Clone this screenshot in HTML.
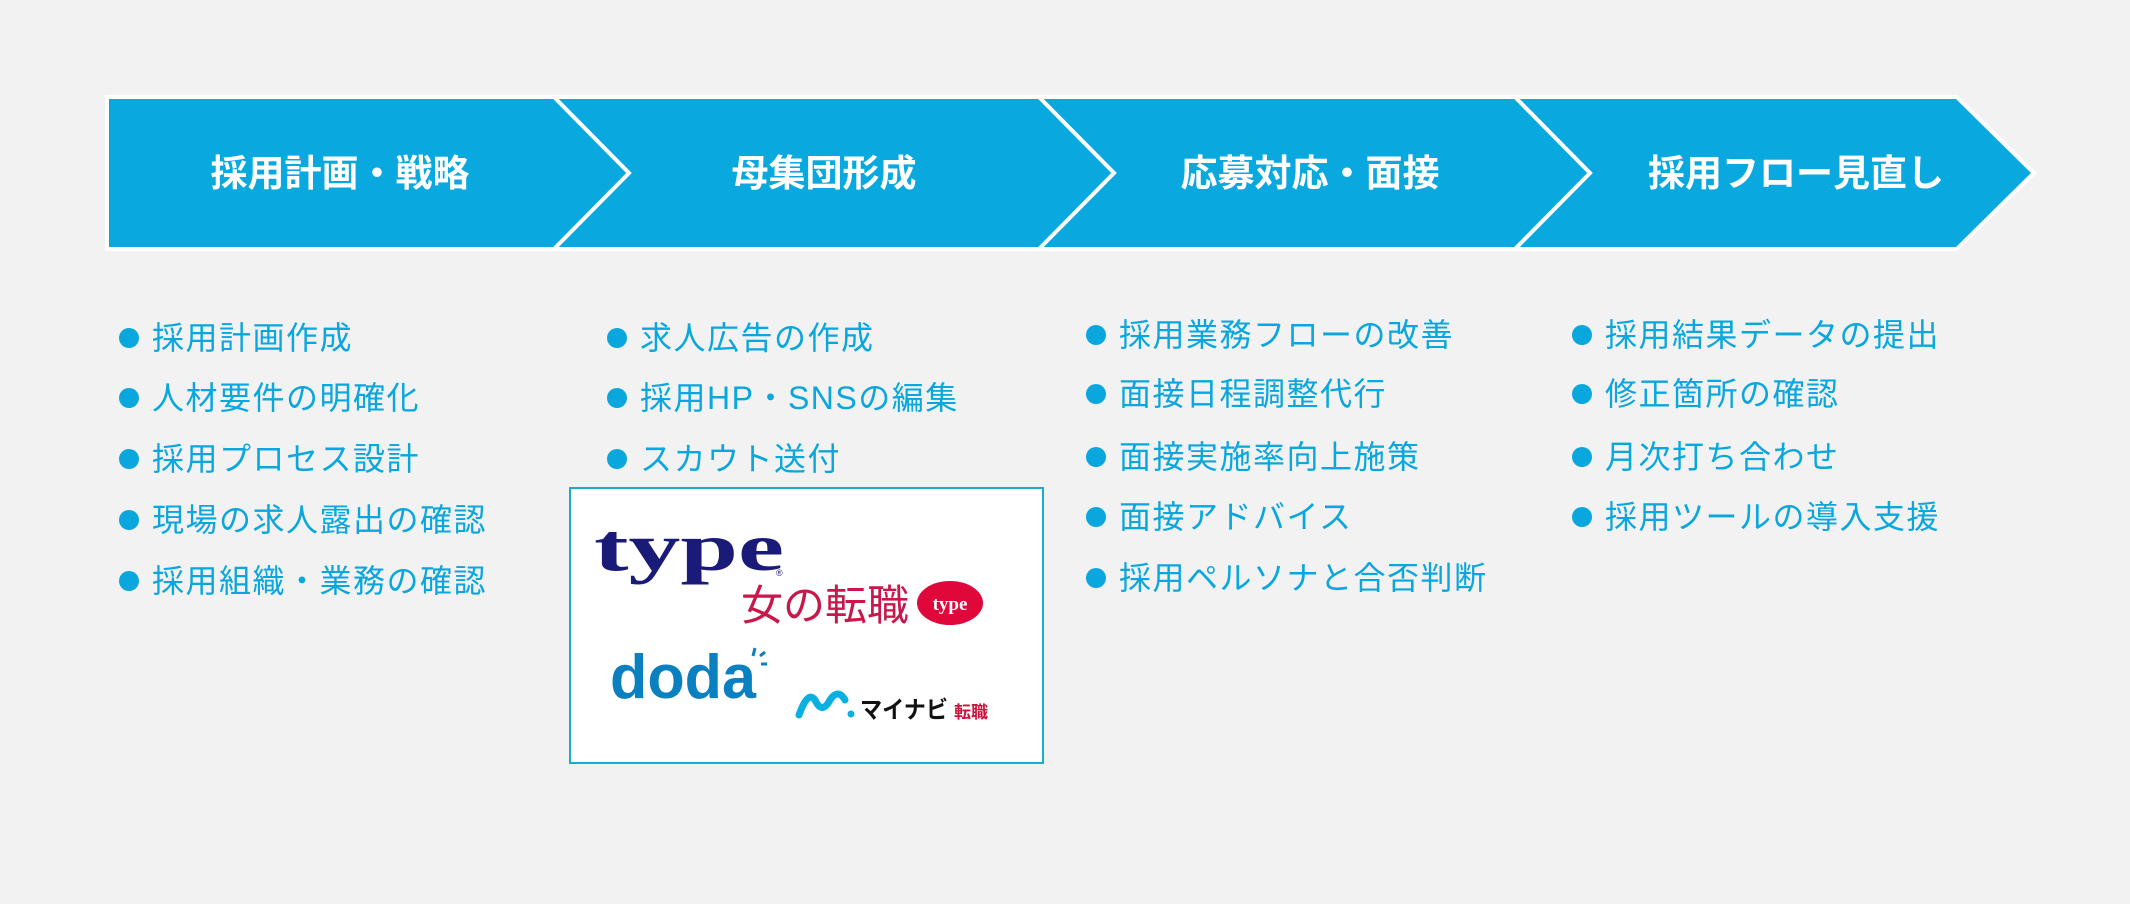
<!DOCTYPE html>
<html><head><meta charset="utf-8"><style>
html,body{margin:0;padding:0;}
body{width:2130px;height:904px;background:#f2f2f2;position:relative;overflow:hidden;font-family:"Liberation Sans","Noto Sans CJK JP",sans-serif;}
.it{position:absolute;height:40px;line-height:40px;font-size:32px;color:#0aa6de;letter-spacing:1.5px;white-space:nowrap;}
.it::before{content:"";position:absolute;left:-33px;top:10px;width:20px;height:20px;border-radius:50%;background:#0aa6de;}
</style></head><body>
<svg width="2130" height="904" style="position:absolute;left:0;top:0">
<polygon points="105,95 1957,95 2037,173 1957,251 105,251" fill="#fff"/>
<polygon points="109,99 1956,99 2031,173 1956,247 109,247" fill="#09a9e0"/>
<g fill="none" stroke="#fff" stroke-width="4">
<polyline points="554,97 629,173 554,249"/>
<polyline points="1039,97 1114,173 1039,249"/>
<polyline points="1515,97 1590,173 1515,249"/>
</g>
<g fill="#fff" font-weight="bold" font-size="37" text-anchor="middle" font-family="Liberation Sans,Noto Sans CJK JP,sans-serif">
<text x="340" y="186">採用計画・戦略</text>
<text x="824" y="186">母集団形成</text>
<text x="1310" y="186">応募対応・面接</text>
<text x="1796" y="186">採用フロー見直し</text>
</g>
<rect x="570" y="488" width="473" height="275" fill="#fff" stroke="#1aaccc" stroke-width="2"/>
<text x="594" y="570" font-family="Liberation Serif,serif" font-weight="bold" font-size="68" fill="#1a1a78" textLength="190" lengthAdjust="spacingAndGlyphs">type</text>
<text x="776" y="576" font-size="9" fill="#1a1a78">®</text>
<text x="741" y="620" font-family="Liberation Sans,Noto Sans CJK JP,sans-serif" font-size="42" fill="#c8174a" textLength="168" lengthAdjust="spacingAndGlyphs">女の転職</text>
<ellipse cx="950" cy="603" rx="33" ry="22" fill="#e0073a"/>
<text x="950" y="610" text-anchor="middle" font-family="Liberation Serif,serif" font-weight="bold" font-size="19" fill="#fff">type</text>
<text x="610" y="698" font-family="Liberation Sans,sans-serif" font-weight="bold" font-size="62" fill="#0a80c0" textLength="146" lengthAdjust="spacingAndGlyphs">doda</text>
<g stroke="#0a80c0" stroke-width="3"><line x1="755" y1="648" x2="753" y2="656"/><line x1="760" y1="656" x2="765" y2="652"/><line x1="761" y1="664" x2="767" y2="664"/></g>
<path d="M799,715 Q808,690 815,700 Q822,715 830,700 Q838,688 845,700" fill="none" stroke="#0ab0e0" stroke-width="7" stroke-linecap="round"/>
<circle cx="851" cy="714" r="3.5" fill="#0ab0e0"/>
<text x="860" y="718" font-family="Liberation Sans,Noto Sans CJK JP,sans-serif" font-weight="bold" font-size="24" fill="#111" textLength="88" lengthAdjust="spacingAndGlyphs">マイナビ</text>
<text x="954" y="718" font-family="Liberation Sans,Noto Sans CJK JP,sans-serif" font-weight="bold" font-size="17" fill="#d0103a">転職</text>
</svg>
<div class="it" style="left:152px;top:318px">採用計画作成</div>
<div class="it" style="left:152px;top:378px">人材要件の明確化</div>
<div class="it" style="left:152px;top:439px">採用プロセス設計</div>
<div class="it" style="left:152px;top:500px">現場の求人露出の確認</div>
<div class="it" style="left:152px;top:561px">採用組織・業務の確認</div>
<div class="it" style="left:640px;top:318px">求人広告の作成</div>
<div class="it" style="left:640px;top:378px">採用HP・SNSの編集</div>
<div class="it" style="left:640px;top:439px">スカウト送付</div>
<div class="it" style="left:1119px;top:315px">採用業務フローの改善</div>
<div class="it" style="left:1119px;top:374px">面接日程調整代行</div>
<div class="it" style="left:1119px;top:437px">面接実施率向上施策</div>
<div class="it" style="left:1119px;top:497px">面接アドバイス</div>
<div class="it" style="left:1119px;top:558px">採用ペルソナと合否判断</div>
<div class="it" style="left:1605px;top:315px">採用結果データの提出</div>
<div class="it" style="left:1605px;top:374px">修正箇所の確認</div>
<div class="it" style="left:1605px;top:437px">月次打ち合わせ</div>
<div class="it" style="left:1605px;top:497px">採用ツールの導入支援</div>
</body></html>
